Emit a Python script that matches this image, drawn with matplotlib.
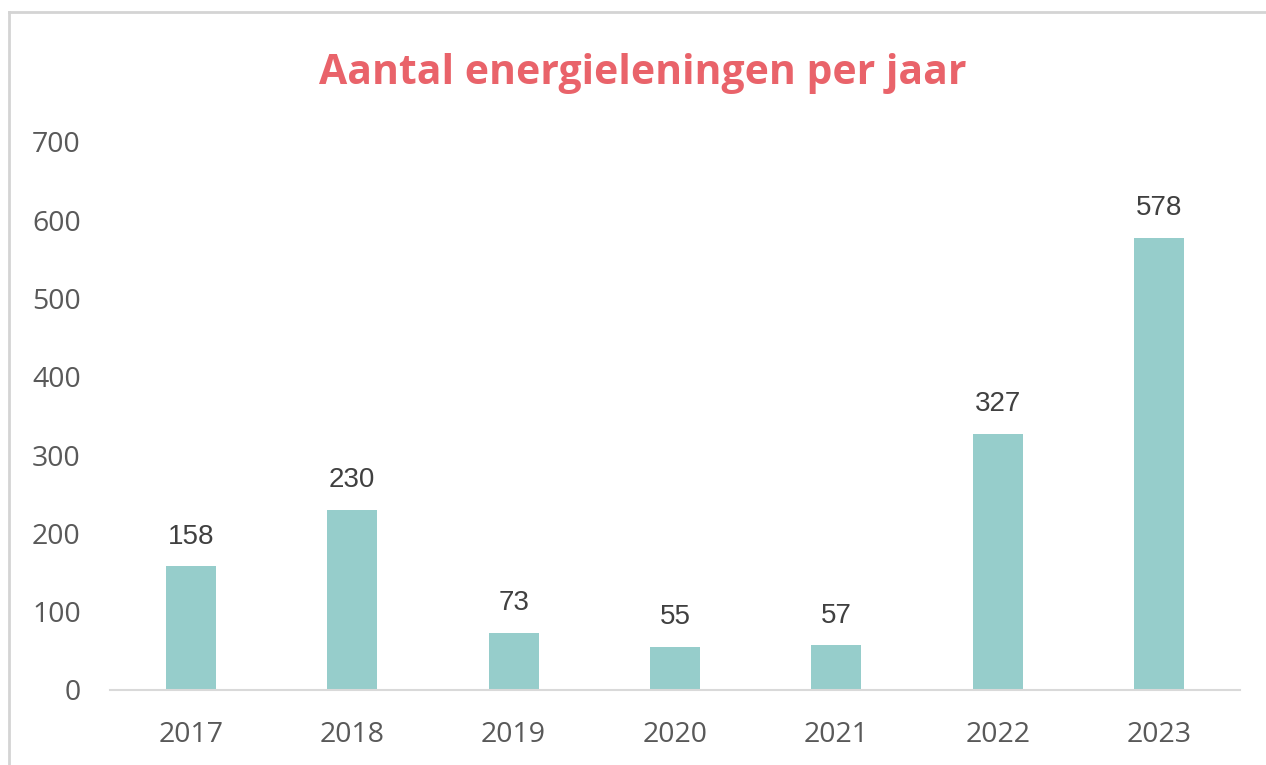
import numpy as np
import matplotlib
matplotlib.use('Agg')
import matplotlib.pyplot as plt
from matplotlib.lines import Line2D

years = ['2017', '2018', '2019', '2020', '2021', '2022', '2023']
leningen = [158, 230, 73, 55, 57, 327, 578]
yticks = [0, 100, 200, 300, 400, 500, 600, 700]

W, H = 1266, 765
fig = plt.figure(figsize=(W / 100, H / 100), dpi=100)
fig.patch.set_facecolor('white')

# plot area in pixels: x 110..1240, y 142..690
ax = fig.add_axes([110 / W, 1 - 690 / H, 1130 / W, (690 - 142) / H])
x = np.arange(len(years))
bars = ax.bar(x, leningen, width=0.31, color='#96cdcb')

for xi, v in zip(x, leningen):
    ax.annotate(str(v), (xi, v), xytext=(0, 12), textcoords='offset points',
                ha='center', va='bottom', fontsize=20, color='#404040',
                family='Liberation Sans')

ax.set_xlim(-0.5, len(years) - 0.5)
ax.set_ylim(0, 700)
ax.set_yticks(yticks)
ax.set_xticks(x)
ax.set_xticklabels(years)
for s in ['top', 'right', 'left']:
    ax.spines[s].set_visible(False)
ax.spines['bottom'].set_color('#d9d9d9')
ax.spines['bottom'].set_linewidth(1.5)
ax.tick_params(axis='both', length=0, labelsize=20.5, labelcolor='#595959')
ax.tick_params(axis='y', pad=21)
ax.tick_params(axis='x', pad=22)
for lab in ax.get_xticklabels() + ax.get_yticklabels():
    lab.set_family('Open Sans')

fig.text(643 / W, 1 - 73 / H, 'Aantal energieleningen per jaar', ha='center', va='center',
         fontsize=29.4, fontweight='bold', color='#e9636a', family='Open Sans')

# thin frame on top and left edge
fig.add_artist(Line2D([9 / W, 1], [1 - 12 / H, 1 - 12 / H], color='#d4d4d4', lw=2, transform=fig.transFigure))
fig.add_artist(Line2D([9 / W, 9 / W], [0, 1 - 12 / H], color='#d4d4d4', lw=2, transform=fig.transFigure))

fig.savefig('out.png', dpi=100)
